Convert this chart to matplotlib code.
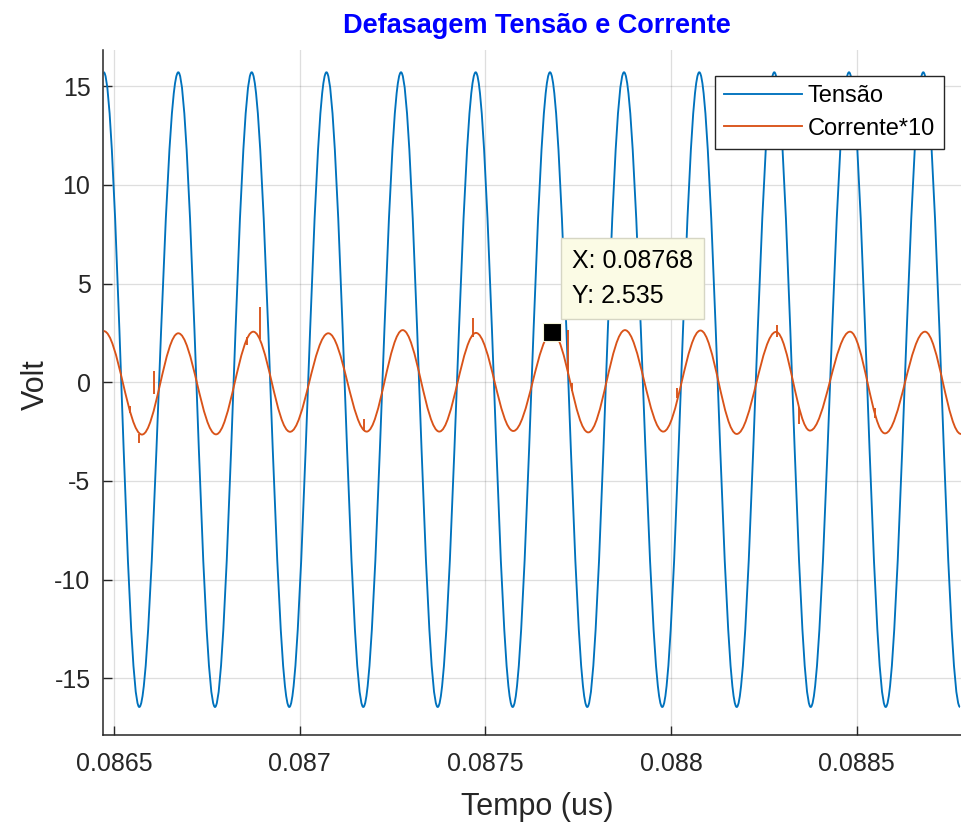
import matplotlib
matplotlib.use("Agg")
import matplotlib.pyplot as plt
from matplotlib.path import Path
from matplotlib.patches import PathPatch
from matplotlib.lines import Line2D

plt.rcParams['font.family'] = ['Liberation Sans', 'DejaVu Sans']
plt.rcParams['axes.unicode_minus'] = False

# Voltage turning points (alternating crests and troughs)
tensao_t = [0.0864725, 0.0865681, 0.0866732, 0.0867720, 0.0868708, 0.0869721,
            0.0870722, 0.0871713, 0.0872729, 0.0873717, 0.0874740, 0.0875736,
            0.0876741, 0.0877745, 0.0878734, 0.0879765, 0.0880761, 0.0881769,
            0.0882781, 0.0883761, 0.0884793, 0.0885781, 0.0886793, 0.0887782]
tensao_v = [15.7, -16.45, 15.7, -16.45, 15.7, -16.45,
            15.7, -16.45, 15.7, -16.45, 15.7, -16.45,
            15.7, -16.45, 15.7, -16.45, 15.7, -16.45,
            15.7, -16.45, 15.7, -16.45, 15.7, -16.45]

# Current (x10) turning points
corrente_t = [0.0864725, 0.0865754, 0.0866732, 0.0867747, 0.0868751, 0.0869740,
              0.0870771, 0.0871805, 0.0872774, 0.0873760, 0.0874748, 0.0875753,
              0.0876800, 0.0877772, 0.0878760, 0.0879792, 0.0880794, 0.0881769,
              0.0882827, 0.0883742, 0.0884820, 0.0885762, 0.0886839, 0.0887809]
corrente_v = [2.59, -2.65, 2.48, -2.64, 2.56, -2.51,
              2.48, -2.50, 2.64, -2.50, 2.50, -2.47,
              2.535, -2.54, 2.64, -2.50, 2.62, -2.62,
              2.55, -2.45, 2.56, -2.59, 2.56, -2.62]

# Short switching spikes on the current trace: time, start level, end level
spike_t = [0.0865444, 0.0865673, 0.0866085, 0.0868582, 0.0868932, 0.0871732,
           0.0874659, 0.0877234, 0.0877325, 0.0880148, 0.0882846, 0.0883446,
           0.0885493]
spike_from = [-1.20, -2.60, -0.60, 1.90, 2.20, -2.45,
              2.30, 0.40, -0.05, -0.80, 2.30, -1.25,
              -1.30]
spike_to = [-1.55, -3.10, 0.57, 2.30, 3.82, -1.85,
            3.27, 2.64, -0.45, -0.30, 2.90, -2.10,
            -1.80]

# Data tip on the current
tip_x = 0.08768
tip_y = 2.535

x_ticks = [0.0865, 0.087, 0.0875, 0.088, 0.0885]
x_tick_labels = ['0.0865', '0.087', '0.0875', '0.088', '0.0885']
y_ticks = [-15, -10, -5, 0, 5, 10, 15]
y_tick_labels = ['-15', '-10', '-5', '0', '5', '10', '15']

BLUE = '#0072BD'
ORANGE = '#D95319'
DARK = '#262626'


def wave_path(ts, vs):
    """Smooth half-cosine-like cubic segments between successive turning points."""
    k = 0.3634
    verts = [(ts[0], vs[0])]
    codes = [Path.MOVETO]
    for i in range(len(ts) - 1):
        t0, v0, t1, v1 = ts[i], vs[i], ts[i + 1], vs[i + 1]
        dt = t1 - t0
        verts += [(t0 + k * dt, v0), (t1 - k * dt, v1), (t1, v1)]
        codes += [Path.CURVE4] * 3
    return Path(verts, codes)


fig = plt.figure(figsize=(9.62, 8.26), dpi=100)
ax = fig.add_axes([103 / 962, 91 / 826, 868 / 962, 685 / 826])

ax.add_patch(PathPatch(wave_path(tensao_t, tensao_v), fill=False,
                       edgecolor=BLUE, lw=1.35, zorder=2))
ax.add_patch(PathPatch(wave_path(corrente_t, corrente_v), fill=False,
                       edgecolor=ORANGE, lw=1.35, zorder=3))
ax.vlines(spike_t, spike_from, spike_to, colors=ORANGE, lw=1.35, zorder=3)

ax.set_xlim(0.0864704, 0.0888078)
ax.set_ylim(-17.87, 16.83)

ax.set_xticks(x_ticks)
ax.set_xticklabels(x_tick_labels)
ax.set_yticks(y_ticks)
ax.set_yticklabels(y_tick_labels)
ax.tick_params(direction='in', length=6.5, width=1.0, color=DARK,
               labelcolor=DARK, labelsize=18)
ax.tick_params(axis='x', pad=12.5)
ax.tick_params(axis='y', pad=9)

ax.grid(True, color=DARK, alpha=0.15, lw=0.9)
ax.set_axisbelow(True)
for side in ('top', 'right'):
    ax.spines[side].set_visible(False)
for side in ('left', 'bottom'):
    ax.spines[side].set_color(DARK)
    ax.spines[side].set_linewidth(1.1)

ax.set_title('Defasagem Tensão e Corrente', color='#0000FF',
             fontweight='bold', fontsize=19.5, pad=12)
ax.set_xlabel('Tempo (us)', fontsize=22, color=DARK)
ax.set_ylabel('Volt', fontsize=22, color=DARK)
ax.xaxis.set_label_coords(0.5, -0.083)
ax.yaxis.set_label_coords(-0.0595, 0.512)

handles = [Line2D([], [], color=BLUE, lw=1.35),
           Line2D([], [], color=ORANGE, lw=1.35)]
leg = ax.legend(handles, ['Tensão', 'Corrente*10'], loc='upper right',
                bbox_to_anchor=(944 / 962, 1 - 76 / 826),
                bbox_transform=fig.transFigure, borderaxespad=0,
                fontsize=17, handlelength=3.3, handletextpad=0.25,
                borderpad=0.38, labelspacing=0.45, fancybox=False,
                framealpha=1, edgecolor=DARK)
leg.get_frame().set_linewidth(1.0)
leg.set_zorder(10)

ax.plot([tip_x], [tip_y], 's', ms=13, mfc='black', mec='#f4f4d8',
        mew=0.8, zorder=6)
ax.annotate(f'X: {tip_x:.5f}'.rstrip('0') + f'\nY: {tip_y:g}',
            xy=(tip_x, tip_y), xytext=(14.3, 17.3), textcoords='offset points',
            ha='left', va='bottom', fontsize=18, color='black',
            linespacing=1.6, zorder=9,
            bbox=dict(boxstyle='square,pad=0.43', fc='#FBFBE5',
                      ec='#D6D6C4', lw=1.0))

fig.savefig('out.png', dpi=100)
